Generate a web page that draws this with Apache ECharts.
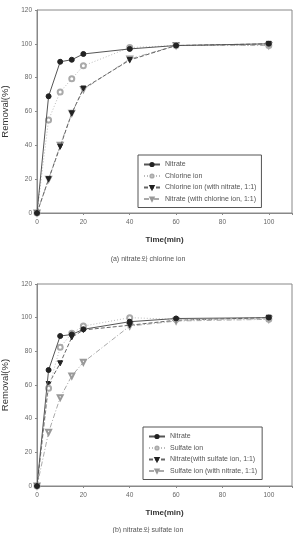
<!DOCTYPE html>
<html><head><meta charset="utf-8">
<script src="https://cdn.jsdelivr.net/npm/echarts@6/dist/echarts.min.js"></script>
<style>html,body{margin:0;padding:0;background:#fff}#c{width:296px;height:533px}</style>
</head><body><div id="c"></div>
<script>
const time = [0, 5, 10, 15, 20, 40, 60, 100];
// (a) nitrate & chlorine ion
const aNitrate = [0, 69, 89.4, 90.6, 94, 97, 99, 100];
const aChlorine = [0, 55, 71.6, 79.3, 87, 97.8, 99, 99];
const aChlorineWithNitrate = [0, 20, 39.2, 58.9, 73.6, 90.4, 99, 100];
const aNitrateWithChlorine = [0, 20, 40, 59, 73, 91, 99, 99];
// (b) nitrate & sulfate ion
const bNitrate = [0, 68.9, 89.1, 90, 93.1, 97.6, 99.5, 100];
const bSulfate = [0, 58, 82.4, 90.7, 95, 100, 99, 99];
const bNitrateWithSulfate = [0, 60.6, 72.9, 88.3, 92.7, 95.5, 98.5, 100];
const bSulfateWithNitrate = [0, 31.9, 52.5, 65.4, 73.5, 95, 98, 99];

const namesA = ['Nitrate', 'Chlorine ion', 'Chlorine ion (with nitrate, 1:1)', 'Nitrate (with chlorine ion, 1:1)'];
const namesB = ['Nitrate', 'Sulfate ion', 'Nitrate(with sulfate ion, 1:1)', 'Sulfate ion (with nitrate, 1:1)'];
const captionA = '(a) nitrate와 chlorine ion';
const captionB = '(b) nitrate와 sulfate ion';

const styles = [
  {symbol: 'circle', rot: 0, color: '#222', line: 'solid', lc: '#555'},
  {symbol: 'emptyCircle', rot: 0, color: '#aaa', line: [1, 2], lc: '#bbb'},
  {symbol: 'triangle', rot: 180, color: '#222', line: [4, 2], lc: '#666'},
  {symbol: 'emptyTriangle', rot: 180, color: '#999', line: [5, 2, 1, 2], lc: '#aaa'}
];
const font = 'Arial, "Liberation Sans", sans-serif';

function mk(names, datas, idx) {
  return datas.map((d, i) => ({
    name: (idx === 0 ? 'a' : 'b') + i,
    type: 'line', xAxisIndex: idx, yAxisIndex: idx,
    data: time.map((t, k) => [t, d[k]]),
    symbol: styles[i].symbol, symbolRotate: styles[i].rot, symbolSize: 5,
    itemStyle: {color: styles[i].color, borderColor: styles[i].color, borderWidth: 1},
    lineStyle: {color: styles[i].lc, width: 1, type: styles[i].line},
    z: 10 - i
  }));
}
function xAx(idx) {
  return {gridIndex: idx, type: 'value', min: 0, max: 110, interval: 20,
    axisLine: {lineStyle: {color: '#888'}}, axisTick: {inside: false, length: 2, lineStyle: {color: '#888'}},
    splitLine: {show: false},
    axisLabel: {color: '#666', fontSize: 6.5, fontFamily: font, margin: 6, formatter: v => v > 100 ? '' : v},
    name: 'Time(min)', nameLocation: 'middle', nameGap: 23,
    nameTextStyle: {color: '#333', fontSize: 8, fontWeight: 'bold', fontFamily: font}};
}
function yAx(idx) {
  return {gridIndex: idx, type: 'value', min: 0, max: 120, interval: 20,
    axisLine: {lineStyle: {color: '#888'}}, axisTick: {length: 2, lineStyle: {color: '#888'}},
    splitLine: {show: false},
    axisLabel: {color: '#666', fontSize: 6.5, fontFamily: font, margin: 5},
    name: 'Removal(%)', nameLocation: 'middle', nameGap: 26, nameRotate: 90,
    nameTextStyle: {color: '#333', fontSize: 9.5, fontFamily: font}};
}
function leg(names, idx, top, left) {
  return {
    data: names.map((n, i) => ({name: (idx === 0 ? 'a' : 'b') + i})),
    formatter: n => names[+n.slice(1)],
    orient: 'vertical', left: left, top: top, itemWidth: 16, itemHeight: 4, itemGap: 4.5,
    padding: [6, 5, 5, 5], borderColor: '#555', borderWidth: 1,
    textStyle: {fontSize: 7, color: '#555', fontFamily: font}
  };
}
const chart = echarts.init(document.getElementById('c'), null, {renderer: 'canvas'});
chart.setOption({
  animation: false,
  backgroundColor: '#fff',
  grid: [
    {left: 37, right: 4, top: 10, height: 203, show: true, borderColor: '#888', borderWidth: 1, containLabel: false, outerBoundsMode: 'none'},
    {left: 37, right: 4, top: 284, height: 202, show: true, borderColor: '#888', borderWidth: 1, containLabel: false, outerBoundsMode: 'none'}
  ],
  xAxis: [xAx(0), xAx(1)],
  yAxis: [yAx(0), yAx(1)],
  legend: [leg(namesA, 0, 155, 138), leg(namesB, 1, 427, 143)],
  title: [
    {text: captionA, left: 'center', top: 251, textStyle: {fontSize: 7, fontWeight: 'normal', color: '#555', fontFamily: font}},
    {text: captionB, left: 'center', top: 522, textStyle: {fontSize: 7, fontWeight: 'normal', color: '#555', fontFamily: font}}
  ],
  series: mk(namesA, [aNitrate, aChlorine, aChlorineWithNitrate, aNitrateWithChlorine], 0)
    .concat(mk(namesB, [bNitrate, bSulfate, bNitrateWithSulfate, bSulfateWithNitrate], 1))
});
</script></body></html>
